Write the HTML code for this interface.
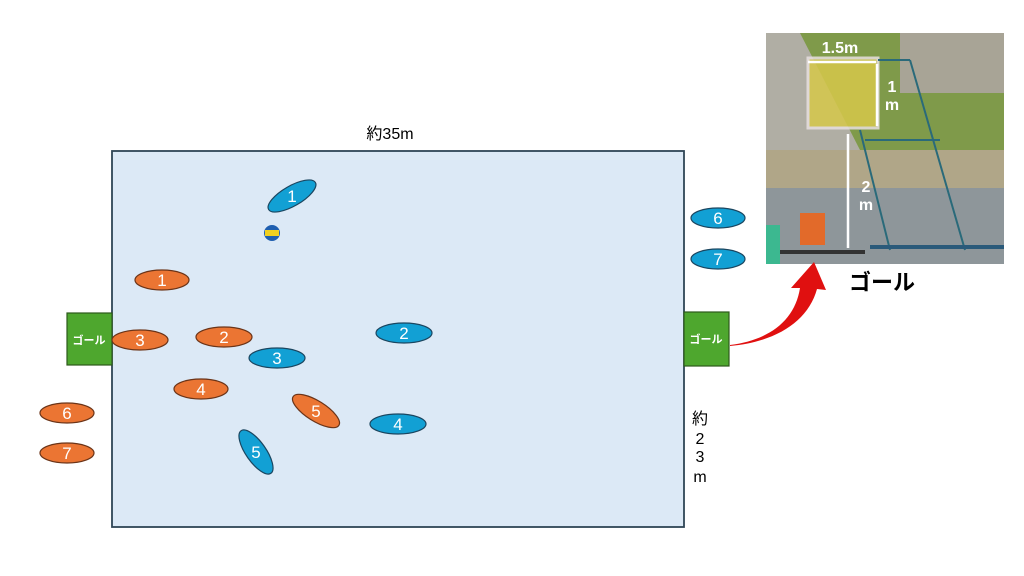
<!DOCTYPE html>
<html><head><meta charset="utf-8"><style>
html,body{margin:0;padding:0;background:#fff;width:1024px;height:576px;overflow:hidden}
svg text{font-family:"Liberation Sans","Noto Sans CJK JP",sans-serif}
</style></head><body>
<svg width="1024" height="576" viewBox="0 0 1024 576" xmlns="http://www.w3.org/2000/svg">
<rect x="112" y="151" width="572" height="376" fill="#dce9f6" stroke="#2f4556" stroke-width="1.8"/>
<text x="390" y="139" font-size="16" text-anchor="middle" fill="#000">約35m</text>
<g font-size="16" text-anchor="middle" fill="#000">
<text x="700" y="424">約</text><text x="700" y="444">2</text><text x="700" y="462">3</text><text x="700" y="482">m</text>
</g>
<rect x="67" y="313" width="45" height="52" fill="#4ea72e" stroke="#2d5a1b" stroke-width="1.2"/>
<text x="89" y="344" font-size="11" fill="#fff" text-anchor="middle" font-weight="bold">ゴール</text>
<rect x="684" y="312" width="45" height="54" fill="#4ea72e" stroke="#2d5a1b" stroke-width="1.2"/>
<text x="706" y="343" font-size="11" fill="#fff" text-anchor="middle" font-weight="bold">ゴール</text>
<g stroke="#6b3418" stroke-width="1.2" fill="#eb7533">
<ellipse cx="162" cy="280" rx="27" ry="10"/>
<ellipse cx="140" cy="340" rx="28" ry="10"/>
<ellipse cx="224" cy="337" rx="28" ry="10"/>
<ellipse cx="201" cy="389" rx="27" ry="10"/>
<ellipse cx="316" cy="411" rx="27" ry="10" transform="rotate(32 316 411)"/>
<ellipse cx="67" cy="413" rx="27" ry="10"/>
<ellipse cx="67" cy="453" rx="27" ry="10"/>
</g>
<g stroke="#1b4660" stroke-width="1.2" fill="#12a0d4">
<ellipse cx="292" cy="196" rx="27" ry="10" transform="rotate(-30 292 196)"/>
<ellipse cx="404" cy="333" rx="28" ry="10"/>
<ellipse cx="277" cy="358" rx="28" ry="10"/>
<ellipse cx="398" cy="424" rx="28" ry="10"/>
<ellipse cx="256" cy="452" rx="26" ry="10" transform="rotate(55 256 452)"/>
<ellipse cx="718" cy="218" rx="27" ry="10"/>
<ellipse cx="718" cy="259" rx="27" ry="10"/>
</g>
<g font-size="17" fill="#fff" text-anchor="middle">
<text x="162" y="286">1</text><text x="140" y="346">3</text><text x="224" y="343">2</text>
<text x="201" y="395">4</text><text x="316" y="417">5</text><text x="67" y="419">6</text><text x="67" y="459">7</text>
<text x="292" y="202">1</text><text x="404" y="339">2</text><text x="277" y="364">3</text>
<text x="398" y="430">4</text><text x="256" y="458">5</text><text x="718" y="224">6</text><text x="718" y="265">7</text>
</g>
<circle cx="272" cy="233" r="8" fill="#1f5fb0"/>
<rect x="265" y="230" width="14" height="6" fill="#f0d020"/>
<!-- photo -->
<g>
<rect x="766" y="33" width="238" height="231" fill="#8a9296"/>
<rect x="766" y="33" width="238" height="117" fill="#7f9a4a"/>
<polygon points="766,33 800,33 860,150 766,150" fill="#b0aea4"/>
<rect x="900" y="33" width="104" height="60" fill="#a8a496"/>
<rect x="766" y="150" width="238" height="38" fill="#b0a688"/>
<rect x="766" y="188" width="238" height="76" fill="#8e969a"/>
<rect x="808" y="58" width="70" height="70" fill="#d6c84a" opacity="0.85" stroke="#e8e0e0" stroke-width="3"/>
<line x1="878" y1="60" x2="910" y2="60" stroke="#2a6a7a" stroke-width="2"/>
<line x1="910" y1="60" x2="965" y2="250" stroke="#2a6a7a" stroke-width="2"/>
<line x1="860" y1="130" x2="890" y2="250" stroke="#2a6a7a" stroke-width="2"/>
<line x1="865" y1="140" x2="940" y2="140" stroke="#2a6a7a" stroke-width="2"/>
<rect x="870" y="245" width="134" height="4" fill="#2a5a7a"/>
<rect x="775" y="250" width="90" height="4" fill="#333"/>
<rect x="800" y="213" width="25" height="32" fill="#e26a2a"/>
<rect x="766" y="225" width="14" height="39" fill="#3cb890"/>
<g stroke="#fff" stroke-width="2.5" fill="#fff">
<line x1="808" y1="62" x2="876" y2="62"/>
<line x1="877" y1="64" x2="877" y2="126"/>
<line x1="848" y1="134" x2="848" y2="248"/>
</g>
<g font-size="16" fill="#fff" text-anchor="middle" font-weight="bold">
<text x="840" y="53">1.5m</text><text x="892" y="92">1</text><text x="892" y="110">m</text>
<text x="866" y="192">2</text><text x="866" y="210">m</text>
</g>
</g>
<text x="882" y="290" font-size="22" font-weight="bold" text-anchor="middle" fill="#000">ゴール</text>
<path d="M730,345 C770,340 795,320 800,288 L791,288 L814,262 L826,290 L817,289 C808,322 775,342 730,346 Z" fill="#e01010"/>
</svg>
</body></html>
